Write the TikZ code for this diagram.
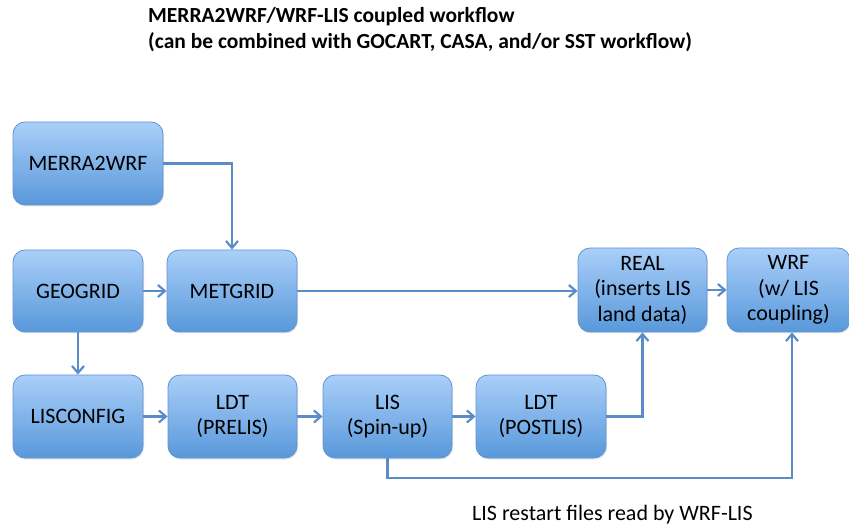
\documentclass[tikz,border=0pt]{standalone}
\usepackage{fontspec}
\setmainfont{Carlito}
\usetikzlibrary{arrows.meta,shadows}
\definecolor{boxtop}{RGB}{170,207,249}
\definecolor{boxbot}{RGB}{88,152,218}
\definecolor{boxline}{RGB}{98,148,210}
\definecolor{arrcol}{RGB}{92,140,200}
\tikzset{
  box/.style={rectangle, rounded corners=12pt, draw=boxline, line width=0.8pt,
    top color=boxtop, bottom color=boxbot, align=center,
    font=\fontsize{22}{25.5}\selectfont, inner sep=0pt,
    drop shadow={opacity=0.2, shadow xshift=1pt, shadow yshift=-1.5pt}},
  arr/.style={draw=arrcol, line width=2.6pt, -{Straight Barb[length=7pt,width=12pt,line width=2.2pt]}},
  ttl/.style={anchor=west, font=\bfseries\fontsize{21.5}{25}\selectfont, inner sep=0pt},
  lbl/.style={anchor=west, font=\fontsize{22}{25}\selectfont, inner sep=0pt}
}
\begin{document}
\begin{tikzpicture}[x=1pt,y=-1pt]
\useasboundingbox (0,0) rectangle (849,529);
\node[ttl] (t1) at (148,17) {MERRA2WRF/WRF-LIS coupled workflow};
\node[ttl] (t2) at (148,42) {(can be combined with GOCART, CASA, and/or SST workflow)};

\node[box, minimum width=150pt, minimum height=83pt] (merra) at (88,163.5) {MERRA2WRF};
\node[box, minimum width=130pt, minimum height=82pt] (geo) at (78,291) {GEOGRID};
\node[box, minimum width=130pt, minimum height=82pt] (met) at (232,291) {METGRID};
\node[box, minimum width=129pt, minimum height=84pt] (real) at (642.5,290) {REAL\\(inserts LIS\\land data)};
\node[box, minimum width=123pt, minimum height=84pt] (wrf) at (788.5,290) {WRF\\(w/ LIS\\coupling)};
\node[box, minimum width=130pt, minimum height=83pt] (lisc) at (78,416.5) {LISCONFIG};
\node[box, minimum width=129pt, minimum height=83pt] (ldt1) at (232.5,416.5) {LDT\\(PRELIS)};
\node[box, minimum width=129pt, minimum height=83pt] (lis) at (387.5,416.5) {LIS\\(Spin-up)};
\node[box, minimum width=130pt, minimum height=83pt] (ldt2) at (541,416.5) {LDT\\(POSTLIS)};

\node[lbl] (note) at (472,515) {LIS restart files read by WRF-LIS};

\draw[arr] (merra.east) -| (met.north);
\draw[arr] (geo) -- (met);
\draw[arr] (met.east) -- (met.east -| real.west);
\draw[arr] (real) -- (wrf);
\draw[arr] (geo) -- (lisc);
\draw[arr] (lisc) -- (ldt1);
\draw[arr] (ldt1) -- (lis);
\draw[arr] (lis) -- (ldt2);
\draw[arr] (ldt2.east) -| (real.south);
\coordinate (r) at (792,478);
\draw[arr] (lis.south) |- (r) -- (r |- wrf.south);
\end{tikzpicture}
\end{document}
